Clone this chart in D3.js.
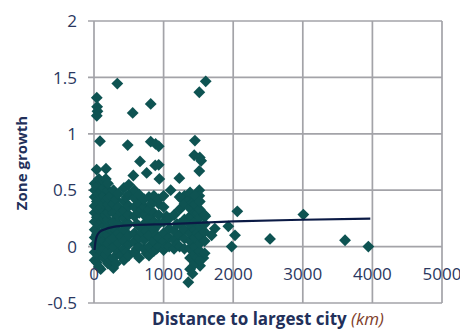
<!DOCTYPE html>
<html>
<head>
<meta charset="utf-8">
<script src="https://cdn.jsdelivr.net/npm/d3@7"></script>
<style>
  html, body { margin: 0; padding: 0; background: #ffffff; }
  svg { display: block; }
</style>
</head>
<body>
<svg id="chart" width="460" height="329"></svg>
<script>
// ---- data ----
const xTicks = [0, 1000, 2000, 3000, 4000, 5000];
const yTicks = [-0.5, 0, 0.5, 1, 1.5, 2];
const xTitle = "Distance to largest city ";
const xTitleUnit = "(km)";
const yTitle = "Zone growth";

// [distance km, zone growth]
const points = [
  // outliers high
  [335, 1.445], [1605, 1.465], [1513, 1.368], [815, 1.265], [556, 1.185],
  [40, 1.32], [45, 1.24], [50, 1.2], [40, 1.16],
  [86, 0.935], [484, 0.90], [815, 0.93], [885, 0.91], [930, 0.89],
  [1450, 0.94], [1440, 0.81], [1520, 0.79], [1540, 0.76], [1513, 0.67],
  [930, 0.725], [880, 0.72], [661, 0.755], [757, 0.653], [565, 0.63],
  [38, 0.683], [172, 0.69], [939, 0.60], [1226, 0.607], [1102, 0.50],
  [1390, 0.46], [1300, 0.45], [1270, 0.42], [1513, 0.5], [1513, 0.45],
  // far points
  [2059, 0.313], [3008, 0.284], [2529, 0.068], [3607, 0.056], [3942, 0.0],
  [1978, 0.0], [2026, 0.1], [1930, 0.18], [1736, 0.16], [1690, 0.10], [1600, 0.27],
  // low points
  [1355, -0.316], [278, -0.19], [96, -0.2], [1571, -0.10], [1524, -0.17],
  // dense cluster 0-250 km
  [10, -0.12], [10, -0.05], [10, 0.02], [10, 0.08], [10, 0.15], [10, 0.22], [10, 0.3],
  [10, 0.36], [10, 0.44], [10, 0.5], [10, 0.56],
  [40, -0.14], [40, -0.01], [40, 0.11], [40, 0.26], [40, 0.4], [40, 0.53],
  [70, -0.18], [70, -0.08], [70, 0.0], [70, 0.06], [70, 0.12], [70, 0.2], [70, 0.27],
  [70, 0.33], [70, 0.4], [70, 0.47], [70, 0.55], [70, 0.6],
  [105, -0.05], [105, 0.08], [105, 0.22], [105, 0.35], [105, 0.49], [105, 0.57],
  [140, -0.1], [140, -0.02], [140, 0.05], [140, 0.11], [140, 0.18], [140, 0.25],
  [140, 0.31], [140, 0.38], [140, 0.45], [140, 0.52], [140, 0.58],
  [170, -0.07], [170, 0.14], [170, 0.28], [170, 0.41], [170, 0.6],
  [200, -0.15], [200, -0.04], [200, 0.03], [200, 0.1], [200, 0.17], [200, 0.24],
  [200, 0.3], [200, 0.37], [200, 0.43], [200, 0.5], [200, 0.56],
  [240, -0.12], [240, 0.06], [240, 0.15], [240, 0.34], [240, 0.45],
  // 250-500 km
  [280, -0.1], [280, 0.0], [280, 0.08], [280, 0.22], [280, 0.3], [280, 0.38], [280, 0.5],
  [315, -0.15], [315, 0.14], [315, 0.42],
  [350, -0.05], [350, 0.03], [350, 0.12], [350, 0.2], [350, 0.27], [350, 0.35], [350, 0.47],
  [390, 0.09], [390, 0.3], [390, -0.08],
  [430, -0.12], [430, -0.02], [430, 0.05], [430, 0.15], [430, 0.25], [430, 0.32], [430, 0.4], [430, 0.52],
  [465, 0.2], [465, 0.44], [465, -0.05],
  [500, -0.08], [500, 0.02], [500, 0.1], [500, 0.2], [500, 0.28], [500, 0.36], [500, 0.46], [500, 0.55],
  // 550-950 km
  [580, -0.05], [580, 0.05], [580, 0.12], [580, 0.27], [580, 0.35], [580, 0.43], [580, 0.5],
  [615, 0.2], [615, -0.02],
  [650, -0.1], [650, 0.0], [650, 0.08], [650, 0.18], [650, 0.3], [650, 0.38], [650, 0.46],
  [685, 0.13], [685, 0.33],
  [720, -0.02], [720, 0.06], [720, 0.2], [720, 0.28], [720, 0.35], [720, 0.42],
  [755, 0.14], [755, -0.06],
  [790, -0.08], [790, 0.0], [790, 0.1], [790, 0.25], [790, 0.33], [790, 0.44],
  [825, 0.18], [825, 0.38],
  [860, -0.04], [860, 0.05], [860, 0.15], [860, 0.22], [860, 0.3], [860, 0.4], [860, 0.45],
  [900, 0.1], [900, -0.02],
  [930, 0.0], [930, 0.08], [930, 0.2], [930, 0.28], [930, 0.38], [930, 0.42],
  // 1000-1300 km
  [1000, -0.03], [1000, 0.05], [1000, 0.12], [1000, 0.22], [1000, 0.35], [1000, 0.45],
  [1040, 0.0], [1040, 0.27],
  [1080, 0.0], [1080, 0.08], [1080, 0.16], [1080, 0.25],
  [1150, -0.02], [1150, 0.06], [1150, 0.14], [1150, 0.28],
  [1190, 0.02], [1190, 0.2],
  [1230, 0.0], [1230, 0.1], [1230, 0.2], [1230, 0.33], [1230, 0.44],
  [1300, -0.02], [1300, 0.07], [1300, 0.15], [1300, 0.24], [1300, 0.38],
  // 1350-1600 km
  [1380, -0.2], [1380, -0.1], [1380, -0.02], [1380, 0.05], [1380, 0.12], [1380, 0.2],
  [1380, 0.27], [1380, 0.34], [1380, 0.42], [1380, 0.48],
  [1415, -0.24], [1415, 0.01], [1415, 0.17], [1415, 0.39],
  [1450, -0.15], [1450, -0.07], [1450, 0.0], [1450, 0.08], [1450, 0.15], [1450, 0.22],
  [1450, 0.3], [1450, 0.37], [1450, 0.45],
  [1485, -0.1], [1485, 0.12], [1485, 0.3],
  [1520, -0.12], [1520, -0.04], [1520, 0.03], [1520, 0.1], [1520, 0.18], [1520, 0.26],
  [1520, 0.33], [1520, 0.4],
  [1590, -0.06], [1590, 0.05], [1590, 0.13], [1590, 0.2], [1590, 0.28]
];

// trend line
const trendKm =     [8,     20,   40,   80,   140,  280,   560,  1050, 2000,  3000,  3970];
const trendGrowth = [-0.03, 0.04, 0.09, 0.13, 0.15, 0.175, 0.19, 0.2,  0.224, 0.238, 0.248];

// ---- layout ----
const svg = d3.select("#chart");
const x = d3.scaleLinear().domain([0, 5000]).range([94, 442]);
const y = d3.scaleLinear().domain([-0.5, 2]).range([303, 21]);

const gridColor = "#a3a3a8";
const textColor = "#2a3760";
const markColor = "#0e5352";

// horizontal gridlines (with small outside ticks on left)
svg.append("g").selectAll("line").data(yTicks).join("line")
  .attr("x1", 88).attr("x2", x(5000))
  .attr("y1", d => y(d)).attr("y2", d => y(d))
  .attr("stroke", gridColor).attr("stroke-width", 1.7);

// vertical gridlines
svg.append("g").selectAll("line").data(xTicks).join("line")
  .attr("x1", d => x(d)).attr("x2", d => x(d))
  .attr("y1", y(2)).attr("y2", y(-0.5))
  .attr("stroke", gridColor).attr("stroke-width", 1.7);

// y tick labels
svg.append("g").selectAll("text").data(yTicks).join("text")
  .attr("x", 77).attr("y", d => y(d))
  .attr("dy", "0.36em")
  .attr("text-anchor", "end")
  .attr("font-family", "Open Sans, sans-serif")
  .attr("font-size", 17)
  .attr("fill", textColor)
  .text(d => String(d));

// markers
svg.append("g").selectAll("path").data(points).join("path")
  .attr("d", d3.symbol().type(d3.symbolSquare).size(70))
  .attr("transform", d => `translate(${x(d[0])},${y(d[1])}) rotate(45)`)
  .attr("fill", markColor);

// trend line
const trend = trendKm.map((k, i) => [k, trendGrowth[i]]);
svg.append("path").datum(trend)
  .attr("d", d3.line().x(d => x(d[0])).y(d => y(d[1])).curve(d3.curveMonotoneX))
  .attr("fill", "none").attr("stroke", "#0b1a45").attr("stroke-width", 2.2);

// x tick labels (placed under the y=0 line)
svg.append("g").selectAll("text").data(xTicks).join("text")
  .attr("x", d => x(d)).attr("y", y(0) + 33)
  .attr("text-anchor", "middle")
  .attr("font-family", "Open Sans, sans-serif")
  .attr("font-size", 17)
  .attr("fill", textColor)
  .text(d => String(d));

// x title
const xt = svg.append("text")
  .attr("x", 268).attr("y", 325)
  .attr("text-anchor", "middle")
  .attr("font-family", "Open Sans, sans-serif")
  .attr("font-size", 17)
  .attr("font-weight", "bold")
  .attr("fill", "#22305a");
xt.append("tspan").text(xTitle);
xt.append("tspan").attr("font-style", "italic").attr("font-weight", "normal")
  .attr("fill", "#7e3d2a").text(xTitleUnit);

// y title
svg.append("text")
  .attr("transform", "translate(27,163) rotate(-90)")
  .attr("text-anchor", "middle")
  .attr("font-family", "Open Sans, sans-serif")
  .attr("font-size", 15)
  .attr("font-weight", "bold")
  .attr("fill", "#22305a")
  .text(yTitle);
</script>
</body>
</html>
